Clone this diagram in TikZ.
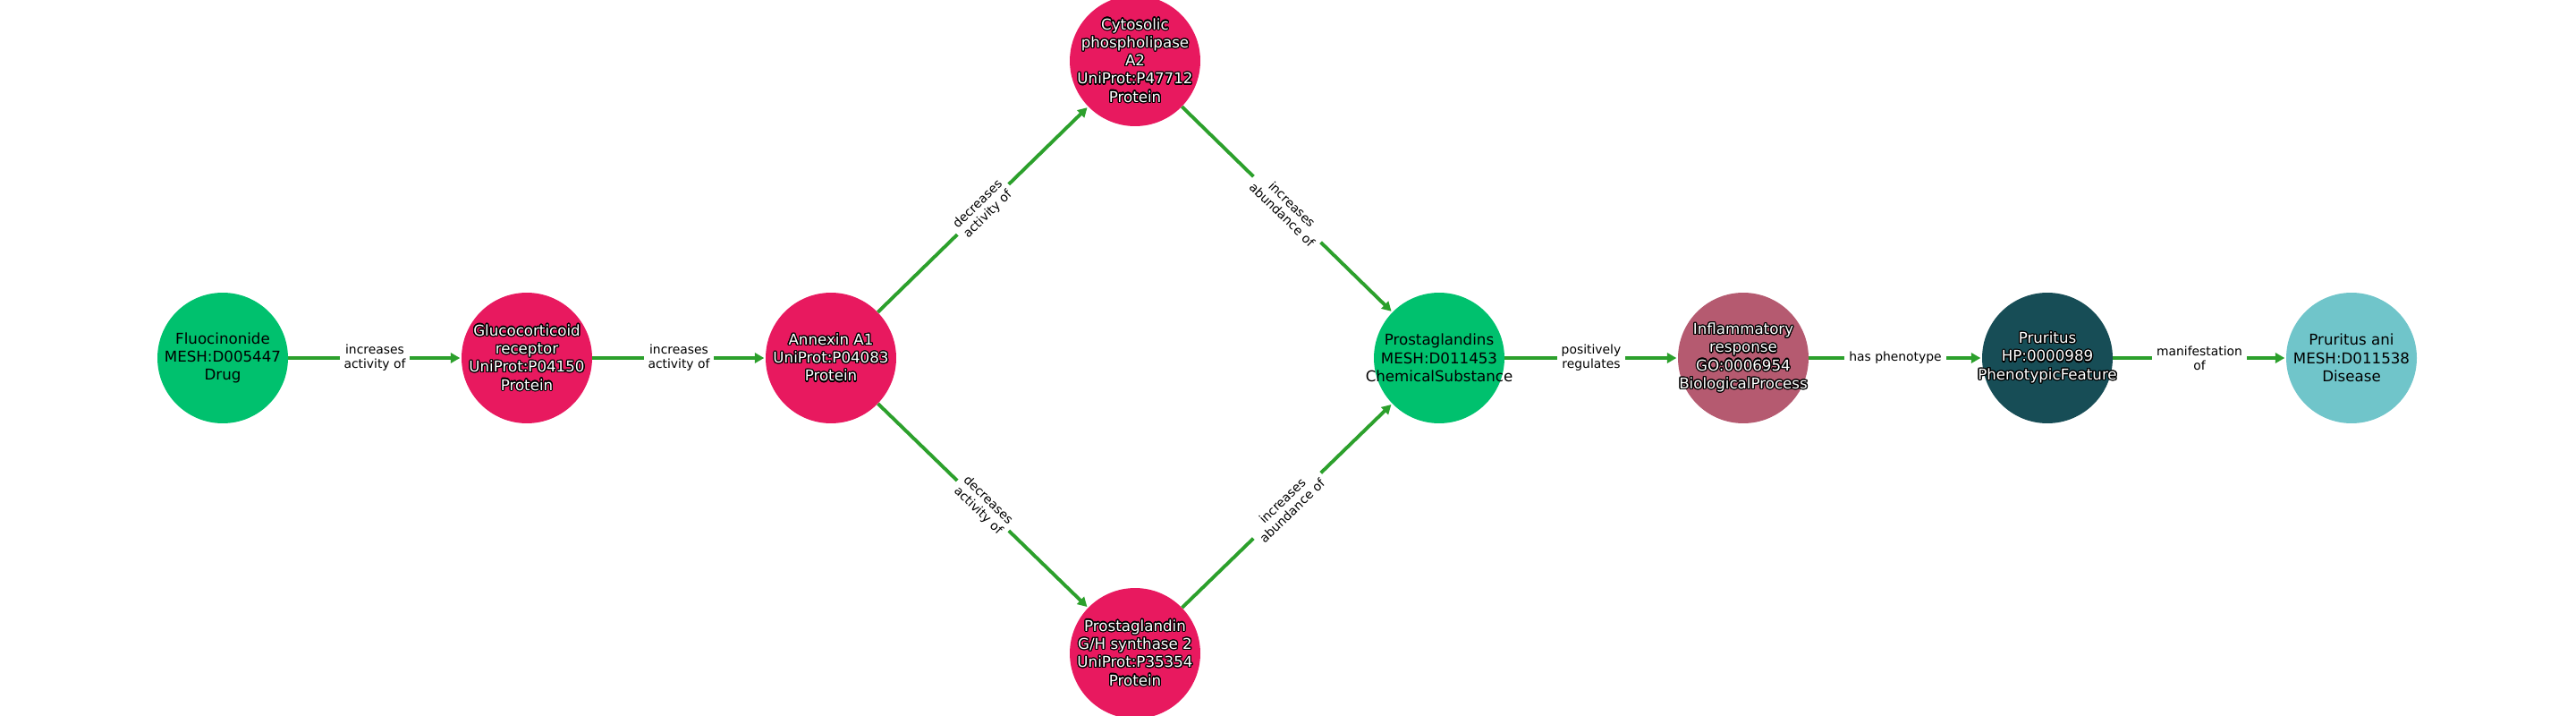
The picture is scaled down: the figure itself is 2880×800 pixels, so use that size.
\documentclass[tikz,border=0pt]{standalone}
\usepackage{fontspec}
\setmainfont{DejaVu Sans}
\usepackage{contour}
\contourlength{0.9pt}
\usetikzlibrary{arrows.meta}
\definecolor{drugc}{HTML}{00C16E}
\definecolor{protc}{HTML}{E8195F}
\definecolor{procc}{HTML}{B55A70}
\definecolor{phenc}{HTML}{174D56}
\definecolor{disc}{HTML}{70C5CA}
\definecolor{edgec}{HTML}{2CA02C}
\tikzset{
  ent/.style={circle, draw=none, minimum size=105.1pt, inner sep=0pt},
  darktxt/.style={text=white, align=center, inner sep=0pt, font=\fontsize{12}{14.6}\selectfont},
  lighttxt/.style={text=black, align=center, inner sep=0pt, font=\fontsize{12}{14.6}\selectfont},
  rel/.style={draw=edgec, line width=2.8pt, shorten >=1pt, -{Triangle[length=7.5pt,width=8pt]}},
  rellab/.style={fill=white, text=black, align=center, inner xsep=3.5pt, inner ysep=2pt, font=\fontsize{10}{11.4}\selectfont}
}
\newcommand{\olt}[1]{\contour{black}{#1}}

\begin{document}
\begin{tikzpicture}[x=0.72pt, y=-0.72pt]
\useasboundingbox (0,0) rectangle (2880,800);
% entities
\node[ent, fill=drugc, label={[lighttxt]center:Fluocinonide\\MESH:D005447\\Drug}] (fluo) at (249,400) {};
\node[ent, fill=protc, label={[darktxt]center:\olt{Glucocorticoid}\\\olt{receptor}\\\olt{UniProt:P04150}\\\olt{Protein}}] (gr) at (589,400) {};
\node[ent, fill=protc, label={[darktxt]center:\olt{Annexin A1}\\\olt{UniProt:P04083}\\\olt{Protein}}] (anx) at (929,400) {};
\node[ent, fill=protc, label={[darktxt]center:\olt{Cytosolic}\\\olt{phospholipase}\\\olt{A2}\\\olt{UniProt:P47712}\\\olt{Protein}}] (cpla) at (1269,68) {};
\node[ent, fill=protc, label={[darktxt]center:\olt{Prostaglandin}\\\olt{G/H synthase 2}\\\olt{UniProt:P35354}\\\olt{Protein}}] (ptgs) at (1269,730) {};
\node[ent, fill=drugc, label={[lighttxt]center:Prostaglandins\\MESH:D011453\\ChemicalSubstance}] (pgs) at (1609,400) {};
\node[ent, fill=procc, label={[darktxt]center:\olt{Inflammatory}\\\olt{response}\\\olt{GO:0006954}\\\olt{BiologicalProcess}}] (infl) at (1949,400) {};
\node[ent, fill=phenc, label={[darktxt]center:\olt{Pruritus}\\\olt{HP:0000989}\\\olt{PhenotypicFeature}}] (prur) at (2289,400) {};
\node[ent, fill=disc, label={[lighttxt]center:Pruritus ani\\MESH:D011538\\Disease}] (pani) at (2629,400) {};
% relations
\draw[rel] (fluo) -- node[rellab] {increases\\activity of} (gr);
\draw[rel] (gr) -- node[rellab] {increases\\activity of} (anx);
\draw[rel] (anx) -- node[rellab, sloped] {decreases\\activity of} (cpla);
\draw[rel] (anx) -- node[rellab, sloped] {decreases\\activity of} (ptgs);
\draw[rel] (cpla) -- node[rellab, sloped] {increases\\abundance of} (pgs);
\draw[rel] (ptgs) -- node[rellab, sloped] {increases\\abundance of} (pgs);
\draw[rel] (pgs) -- node[rellab] {positively\\regulates} (infl);
\draw[rel] (infl) -- node[rellab] {has phenotype} (prur);
\draw[rel] (prur) -- node[rellab] {manifestation\\of} (pani);
\end{tikzpicture}
\end{document}
